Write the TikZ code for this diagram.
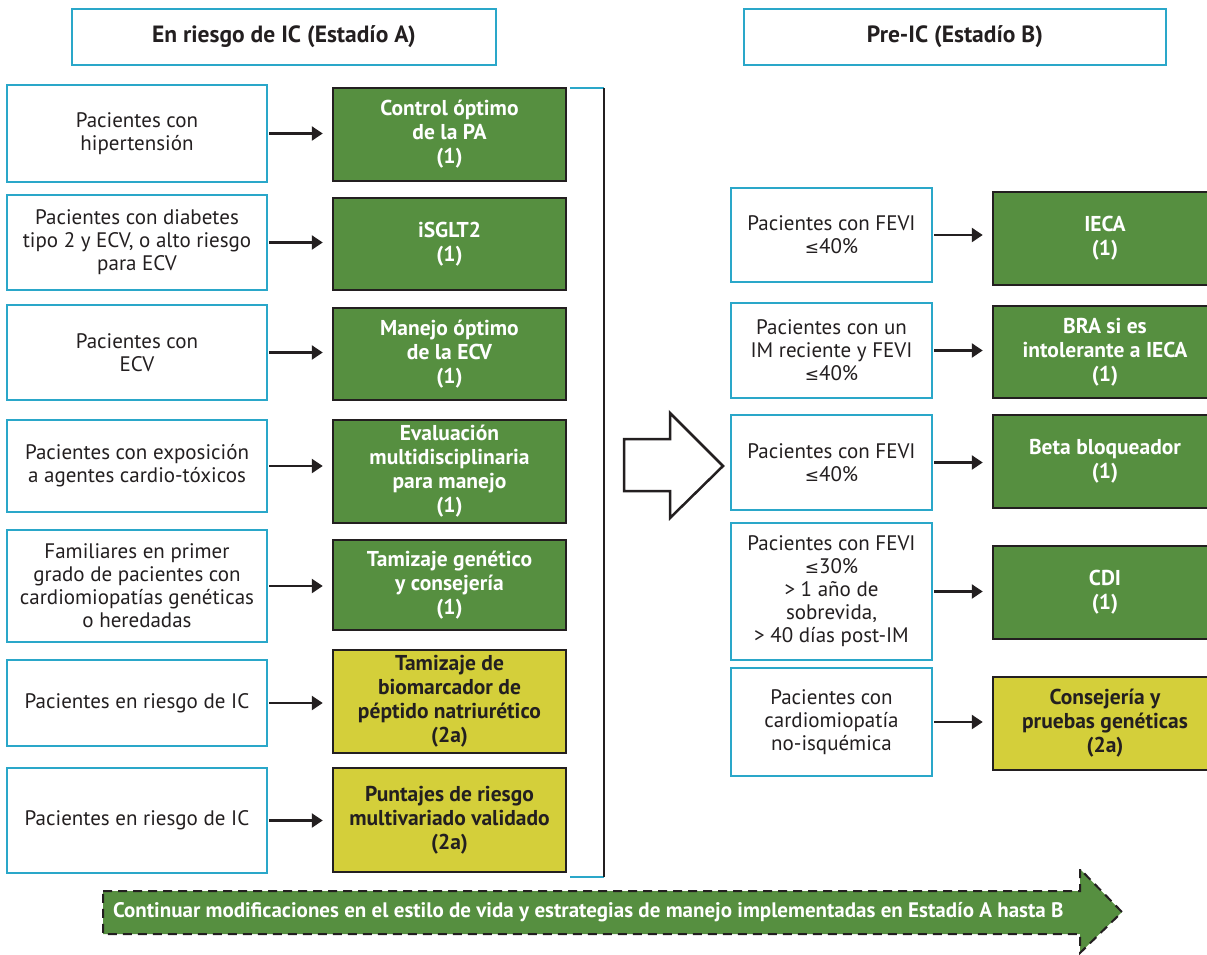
\documentclass[tikz,border=0pt]{standalone}
\usepackage{fontspec}
\setmainfont{PT Sans}
\newfontfamily\symfont{DejaVu Sans}
\newcommand{\leqs}{{\symfont\fontsize{17}{20}\selectfont ≤}}
\definecolor{cblue}{HTML}{2AA7C9}
\definecolor{cgreen}{HTML}{568F40}
\definecolor{cyellow}{HTML}{D4CF3A}
\definecolor{cdark}{HTML}{231F20}
\tikzset{
  base/.style={rectangle, inner sep=2pt, align=center, font=\fontsize{21}{23}\selectfont},
  lbox/.style={base, draw=cblue, line width=2.5pt, fill=white, text=cdark},
  hbox/.style={lbox, font=\fontsize{23.5}{26}\selectfont\bfseries},
  gbox/.style={base, draw=cdark, line width=2.5pt, fill=cgreen, text=white, font=\fontsize{21.5}{24}\selectfont\bfseries},
  ybox/.style={gbox, fill=cyellow, text=cdark},
  arr/.style={draw=cdark, line width=2.5pt, -{Triangle[length=11pt,width=14pt]}, shorten >=9pt, shorten <=1pt},
}
\usetikzlibrary{arrows.meta}
\begin{document}
\begin{tikzpicture}[x=1pt,y=-1pt]
\useasboundingbox (0,0) rectangle (1207,954);
% headers
\node[hbox, minimum width=424, minimum height=56] (ha) at (284,37) {En riesgo de IC (Estadío A)};
\node[hbox, minimum width=422, minimum height=56] (hb) at (955,37) {Pre-IC (Estadío B)};
% left column A
\node[lbox, minimum width=260, minimum height=97] (l1) at (137,133.5) {Pacientes con\\hipertensión};
\node[lbox, minimum width=260, minimum height=95] (l2) at (137,242.5) {Pacientes con diabetes\\tipo 2 y ECV, o alto riesgo\\para ECV};
\node[lbox, minimum width=260, minimum height=95] (l3) at (137,352.5) {Pacientes con\\ECV};
\node[lbox, minimum width=260, minimum height=92] (l4) at (137,466) {Pacientes con exposición\\a agentes cardio-tóxicos};
\node[lbox, minimum width=260, minimum height=112] (l5) at (137,586) {Familiares en primer\\grado de pacientes con\\cardiomiopatías genéticas\\o heredadas};
\node[lbox, minimum width=260, minimum height=86] (l6) at (137,703) {Pacientes en riesgo de IC};
\node[lbox, minimum width=260, minimum height=105] (l7) at (137,820.5) {Pacientes en riesgo de IC};
% green column A
\node[gbox, minimum width=233, minimum height=93] (g1) at (449.5,134.5) {Control óptimo\\de la PA\\(1)};
\node[gbox, minimum width=233, minimum height=92] (g2) at (449.5,244) {iSGLT2\\(1)};
\node[gbox, minimum width=233, minimum height=92] (g3) at (449.5,354) {Manejo óptimo\\de la ECV\\(1)};
\node[gbox, minimum width=233, minimum height=103] (g4) at (449.5,471.5) {Evaluación\\multidisciplinaria\\para manejo\\(1)};
\node[gbox, minimum width=233, minimum height=90] (g5) at (449.5,585) {Tamizaje genético\\y consejería\\(1)};
\node[ybox, minimum width=233, minimum height=103] (g6) at (449.5,701.5) {Tamizaje de\\biomarcador de\\péptido natriurético\\(2a)};
\node[ybox, minimum width=233, minimum height=104] (g7) at (449.5,820) {Puntajes de riesgo\\multivariado validado\\(2a)};
\foreach \i in {1,...,7}{\draw[arr] (l\i.east) -- (l\i.east -| g\i.west);}
% bracket
\coordinate (bt) at (604,88);
\coordinate (bb) at (604,877);
\draw[cblue, line width=2.5pt] (570,88) -- (bt);
\draw[cblue, line width=2.5pt] (570,877) -- (bb);
\draw[cdark, line width=2.5pt] (bt) -- (bb);
% big hollow arrow
\draw[cdark, line width=2.5pt, fill=white, line join=miter] (624,439) -- (670,439) -- (670,413) -- (723,466) -- (670,518) -- (670,491) -- (624,491) -- cycle;
% right column B
\node[lbox, minimum width=201, minimum height=94] (r1) at (831.5,235) {Pacientes con FEVI\\\leqs40\%};
\node[lbox, minimum width=201, minimum height=95] (r2) at (831.5,350.5) {Pacientes con un\\IM reciente y FEVI\\\leqs40\%};
\node[lbox, minimum width=201, minimum height=95] (r3) at (831.5,462.5) {Pacientes con FEVI\\\leqs40\%};
\node[lbox, minimum width=201, minimum height=137] (r4) at (831.5,591.5) {Pacientes con FEVI\\\leqs30\%\\> 1 año de\\sobrevida,\\> 40 días post-IM};
\node[lbox, minimum width=201, minimum height=108] (r5) at (831.5,722) {Pacientes con\\cardiomiopatía\\no-isquémica};
\node[gbox, minimum width=224, minimum height=93] (s1) at (1105,238.5) {IECA\\(1)};
\node[gbox, minimum width=224, minimum height=92] (s2) at (1105,352) {BRA si es\\intolerante a IECA\\(1)};
\node[gbox, minimum width=224, minimum height=93] (s3) at (1105,461.5) {Beta bloqueador\\(1)};
\node[gbox, minimum width=224, minimum height=93] (s4) at (1105,592.5) {CDI\\(1)};
\node[ybox, minimum width=224, minimum height=93] (s5) at (1105,723.5) {Consejería y\\pruebas genéticas\\(2a)};
\foreach \i in {1,...,5}{\draw[arr] (r\i.east) -- (r\i.east -| s\i.west);}
% bottom arrow
\draw[cdark, line width=2pt, fill=cgreen, dash pattern=on 9pt off 6pt, line join=miter] (103,891) -- (1080,891) -- (1080,869) -- (1122,912) -- (1080,953) -- (1080,934) -- (103,934) -- cycle;
\node[text=white, font=\fontsize{21}{24}\selectfont\bfseries, anchor=west, inner sep=0pt] (bt) at (113,912.5) {Continuar modificaciones en el estilo de vida y estrategias de manejo implementadas en Estadío A hasta B};
\end{tikzpicture}
\end{document}
